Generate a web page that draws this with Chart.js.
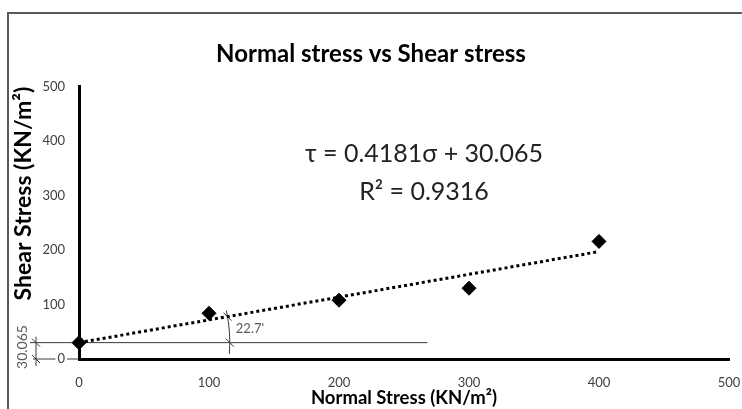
<!DOCTYPE html>
<html>
<head>
<meta charset="utf-8">
<script src="https://cdn.jsdelivr.net/npm/chart.js@4.4.1/dist/chart.umd.min.js"></script>
<style>
  html, body { margin: 0; padding: 0; background: #fff; }
  canvas { display: block; }
</style>
</head>
<body>
<canvas id="chart" width="742" height="409"></canvas>
<script>
// measured points
const normalStress = [0, 100, 200, 300, 400];
const shearStress = [30, 84, 108, 130, 216];

// trendline as printed on the chart
const trendX = [0, 400];
const trendY = [30.065, 197.305];
const slope = 0.4181;
const intercept = 30.065;
const equationLines = ["τ = 0.4181σ + 30.065", "R² = 0.9316"];
const interceptLabel = "30.065";
const angleLabel = "22.7'";

const chartTitle = "Normal stress vs Shear stress";
const xTitle = "Normal Stress (KN/m²)";
const yTitle = "Shear Stress (KN/m²)";

const FONT = "Lato, 'Open Sans', sans-serif";

function slash(ctx, px, py) {
    ctx.beginPath();
    ctx.moveTo(px - 4, py - 4);
    ctx.lineTo(px + 4, py + 4);
    ctx.stroke();
}

const annotations = {
    id: "annotations",
    beforeDraw(chart) {
        const { ctx, scales: { x, y } } = chart;
        ctx.save();
        ctx.fillStyle = "#fff";
        ctx.fillRect(0, 0, chart.width, chart.height);

        // outer frame
        ctx.strokeStyle = "#595959";
        ctx.lineWidth = 2;
        ctx.beginPath();
        ctx.moveTo(8, chart.height);
        ctx.lineTo(8, 13);
        ctx.lineTo(chart.width, 13);
        ctx.stroke();

        let x0 = x.getPixelForValue(0),
            y0 = y.getPixelForValue(0),
            yi = y.getPixelForValue(intercept);

        ctx.strokeStyle = "#3a3a3a";
        ctx.lineWidth = 1;
        // intercept level line and zero line extension
        ctx.beginPath();
        ctx.moveTo(30, yi);
        ctx.lineTo(x.getPixelForValue(268), yi);
        ctx.moveTo(33, y0);
        ctx.lineTo(x0, y0);
        // vertical dimension for the intercept
        ctx.moveTo(36, yi - 6);
        ctx.lineTo(36, y0 + 7);
        ctx.stroke();
        slash(ctx, 36, yi);
        slash(ctx, 36, y0);

        // angle arc between the level line and the trendline
        let r = x.getPixelForValue(116) - x0;
        let th = Math.atan2(yi - y.getPixelForValue(intercept + slope * 100), x.getPixelForValue(100) - x0);
        ctx.beginPath();
        ctx.arc(x0, yi, r, -th - 0.04, 0.075);
        ctx.stroke();
        slash(ctx, x0 + r * Math.cos(th), yi - r * Math.sin(th));
        slash(ctx, x0 + r, yi);

        ctx.fillStyle = "#595959";
        ctx.font = "13px " + FONT;
        ctx.textAlign = "left";
        ctx.textBaseline = "middle";
        ctx.fillText(angleLabel, x0 + r + 6, yi - 14);

        ctx.save();
        ctx.translate(22, 347);
        ctx.rotate(-Math.PI / 2);
        ctx.textAlign = "center";
        ctx.font = "14px " + FONT;
        ctx.fillText(interceptLabel, 0, 0);
        ctx.restore();

        ctx.restore();
    },
    afterDatasetsDraw(chart) {
        const { ctx } = chart;
        ctx.save();
        ctx.fillStyle = "#222";
        ctx.font = "25px " + FONT;
        ctx.textAlign = "center";
        ctx.textBaseline = "alphabetic";
        ctx.fillText(equationLines[0], 424, 162);
        ctx.fillText(equationLines[1], 424, 200);
        ctx.restore();
    }
};

new Chart(document.getElementById("chart").getContext("2d"), {
    type: "scatter",
    data: {
        datasets: [
            {
                label: "Shear stress",
                data: normalStress.map((v, i) => ({ x: v, y: shearStress[i] })),
                pointStyle: "rectRot",
                pointRadius: 7,
                pointHoverRadius: 7,
                backgroundColor: "#000",
                borderColor: "#000",
                borderWidth: 1,
                clip: false
            },
            {
                label: "Linear trend",
                type: "line",
                data: trendX.map((v, i) => ({ x: v, y: trendY[i] })),
                borderColor: "#000",
                borderWidth: 3,
                borderDash: [3, 3],
                pointRadius: 0,
                fill: false
            }
        ]
    },
    options: {
        responsive: false,
        animation: false,
        layout: { padding: 0 },
        plugins: {
            legend: { display: false },
            tooltip: { enabled: false },
            title: {
                display: true,
                text: chartTitle,
                color: "#000",
                font: { family: FONT, size: 24, weight: "bold" },
                padding: { top: 40, bottom: 18 }
            }
        },
        scales: {
            x: {
                type: "linear",
                min: 0,
                max: 500,
                grid: { display: false, drawTicks: false },
                border: { display: true, color: "#000", width: 3 },
                ticks: { stepSize: 100, color: "#404040", padding: 16, font: { family: FONT, size: 13 } },
                title: { display: true, text: xTitle, color: "#000", padding: { top: 0, bottom: 0 }, font: { family: FONT, size: 18.5, weight: "bold" } },
                afterFit: (s) => { s.height = 50; s.paddingLeft = 0; s.paddingRight = 13; }
            },
            y: {
                type: "linear",
                min: 0,
                max: 500,
                grid: { display: false, drawTicks: false },
                border: { display: true, color: "#000", width: 3 },
                ticks: {
                    stepSize: 100, color: "#404040", padding: 14, font: { family: FONT, size: 13 },
                    showLabelBackdrop: true, backdropColor: "#fff", backdropPadding: 2
                },
                title: { display: true, text: yTitle, color: "#000", align: "end", padding: { top: 10, bottom: 0 }, font: { family: FONT, size: 23, weight: "bold" } },
                afterFit: (s) => { s.width = 79; }
            }
        }
    },
    plugins: [annotations]
});
</script>
</body>
</html>
